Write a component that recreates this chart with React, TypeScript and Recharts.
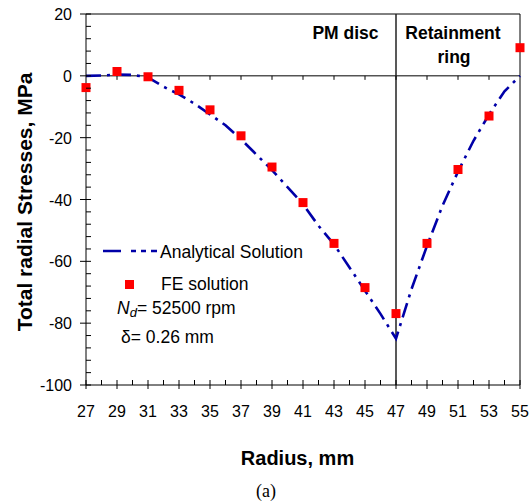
import React from 'react';
import { ComposedChart, Line, Scatter, XAxis, YAxis, ReferenceLine } from 'recharts';

// analytical solution, read at every mm
const radiusLine = [27, 28, 29, 30, 31, 32, 33, 34, 35, 36, 37, 38, 39, 40, 41, 42, 43, 44, 45, 46, 47, 48, 49, 50, 51, 52, 53, 54, 55];
const analyticStress = [0, 0.1, 0.4, 0.3, -0.5, -3.5, -6, -9, -12.5, -16, -20.5, -25.5, -30.5, -36, -41.5, -48.5, -54.5, -62, -69.5, -77, -85, -69, -55, -42, -31, -21, -12.5, -5, 0];

// FE solution points
const radiusFe = [27, 29, 31, 33, 35, 37, 39, 41, 43, 45, 47, 49, 51, 53, 55];
const feStress = [-3.8, 1.4, -0.3, -4.7, -11, -19.4, -29.5, -41, -54.2, -68.5, -76.9, -54.2, -30.3, -13, 9.1];

const xMajorTicks = [27, 29, 31, 33, 35, 37, 39, 41, 43, 45, 47, 49, 51, 53, 55];
const yMajorTicks = [-100, -80, -60, -40, -20, 0, 20];

const xAllTicks = Array.from({ length: 29 }, (_, i) => 27 + i);
const yAllTicks = Array.from({ length: 31 }, (_, i) => -100 + i * 4);

const lineData = radiusLine.map((x, i) => ({ x, y: analyticStress[i] }));
const feData = radiusFe.map((x, i) => ({ x, y: feStress[i] }));

const FONT = '"Liberation Sans", Arial, sans-serif';
const BLUE = '#0000a8';
const RED = '#ff0000';

const XTick = (props: any) => {
  const { x, y, payload } = props;
  const major = xMajorTicks.includes(payload.value);
  return (
    <g>
      <line x1={x} x2={x} y1={major ? y + 4 : y} y2={y - 5} stroke="#000" />
      {major && (
        <text x={x} y={y + 32} textAnchor="middle" fontSize={16} fontFamily={FONT} fill="#000">
          {payload.value}
        </text>
      )}
    </g>
  );
};

const YTick = (props: any) => {
  const { x, y, payload } = props;
  const major = yMajorTicks.includes(payload.value);
  return (
    <g>
      <line x1={major ? x - 6 : x} x2={x + 5} y1={y} y2={y} stroke="#000" />
      {major && (
        <text x={x - 14} y={y + 6} textAnchor="end" fontSize={16} fontFamily={FONT} fill="#000">
          {payload.value}
        </text>
      )}
    </g>
  );
};

const FeSquare = (props: any) => (
  <rect x={props.cx - 4.5} y={props.cy - 4.5} width={9} height={9} fill={RED} />
);

export default function App() {
  return (
    <div style={{ position: 'absolute', left: 0, top: 0, width: 530, height: 504, background: '#fff' }}>
      <ComposedChart width={530} height={504} margin={{ top: 14, right: 10, left: 0, bottom: 0 }}>
        <XAxis
          type="number"
          dataKey="x"
          domain={[27, 55]}
          ticks={xAllTicks}
          interval={0}
          tickSize={0}
          tickMargin={0}
          tick={<XTick />}
          height={119}
          axisLine={{ stroke: '#000' }}
          allowDecimals={false}
        />
        <YAxis
          type="number"
          domain={[-100, 20]}
          ticks={yAllTicks}
          interval={0}
          tickSize={0}
          tickMargin={0}
          tick={<YTick />}
          width={86}
          axisLine={{ stroke: '#000' }}
        />
        <ReferenceLine y={20} stroke="#000" />
        <ReferenceLine x={55} stroke="#000" />
        <ReferenceLine y={0} stroke="#000" />
        <ReferenceLine x={47} stroke="#222" strokeWidth={1.5} />
        {xMajorTicks.slice(1, -1).map(v => (
          <ReferenceLine key={`zt-${v}`} segment={[{ x: v, y: 0 }, { x: v, y: -1.3 }]} stroke="#000" />
        ))}
        <Line
          data={lineData}
          dataKey="y"
          type="linear"
          stroke={BLUE}
          strokeWidth={2.6}
          strokeDasharray="15 6 3 6"
          dot={false}
          isAnimationActive={false}
        />
        <Scatter data={feData} dataKey="y" shape={<FeSquare />} isAnimationActive={false} />
      </ComposedChart>

      <svg width={530} height={504} style={{ position: 'absolute', left: 0, top: 0, pointerEvents: 'none' }}>
        <g fontFamily={FONT} fill="#000">
          <text x={345.5} y={39} textAnchor="middle" fontSize={17.5} fontWeight="bold">PM disc</text>
          <text x={453} y={39} textAnchor="middle" fontSize={17.5} fontWeight="bold">Retainment</text>
          <text x={454} y={63} textAnchor="middle" fontSize={17.5} fontWeight="bold">ring</text>

          <line x1={103} x2={157} y1={251} y2={251} stroke={BLUE} strokeWidth={2.6} strokeDasharray="18 10 5 5 5 5" />
          <text x={160} y={258} fontSize={17.5}>Analytical Solution</text>
          <rect x={125} y={280} width={9} height={9} fill={RED} />
          <text x={161} y={290} fontSize={17.5}>FE solution</text>
          <text x={117} y={314} fontSize={17.5}>
            <tspan fontStyle="italic">N</tspan>
            <tspan fontStyle="italic" fontSize={13} dy={3}>d</tspan>
            <tspan dy={-3}>= 52500 rpm</tspan>
          </text>
          <text x={121} y={343} fontSize={17.5}>δ= 0.26 mm</text>

          <text x={297.5} y={465} textAnchor="middle" fontSize={20} fontWeight="bold">Radius, mm</text>
          <text transform="translate(32,202) rotate(-90)" textAnchor="middle" fontSize={21} fontWeight="bold">
            Total radial Stresses, MPa
          </text>
        </g>
        <text x={266} y={497} textAnchor="middle" fontSize={18} fontFamily='"Liberation Serif", "Times New Roman", serif' fill="#000">
          (a)
        </text>
      </svg>
    </div>
  );
}
